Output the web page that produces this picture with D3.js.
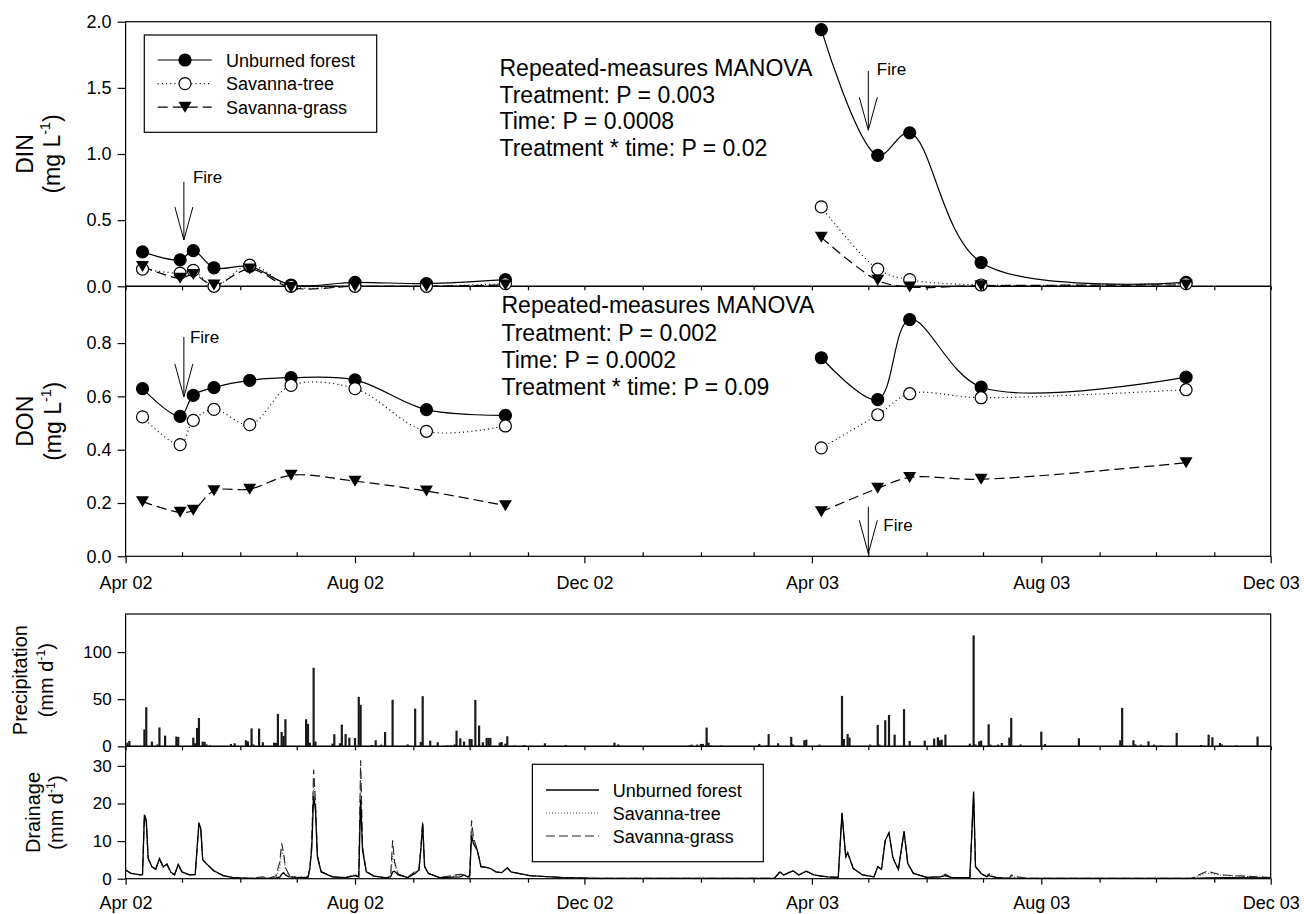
<!DOCTYPE html>
<html>
<head>
<meta charset="utf-8">
<script src="https://cdn.jsdelivr.net/npm/d3@7"></script>
<style>
  body { margin: 0; background: #fff; }
  svg { display: block; }
</style>
</head>
<body>
<svg id="chart" width="1304" height="914"></svg>
<script>
var FONT = '"Liberation Sans", Arial, Helvetica, sans-serif';
var parseDate = d3.timeParse('%Y-%m-%d');

var seriesNames = ['Unburned forest', 'Savanna-tree', 'Savanna-grass'];

// Sampling dates of the lysimeter water
var sampleDates2002 = ['2002-04-10', '2002-04-30', '2002-05-07', '2002-05-18', '2002-06-06',
  '2002-06-28', '2002-08-01', '2002-09-08', '2002-10-20'];
var sampleDates2003 = ['2003-04-06', '2003-05-06', '2003-05-23', '2003-06-30', '2003-10-17'];

// DIN (mg L-1)
var dinForest2002 = [0.26, 0.20, 0.27, 0.14, 0.15, 0.01, 0.03, 0.02, 0.05];
var dinTree2002 = [0.13, 0.10, 0.12, 0.00, 0.16, 0.00, 0.00, 0.00, 0.02];
var dinGrass2002 = [0.15, 0.06, 0.09, 0.01, 0.13, -0.01, 0.00, 0.00, 0.01];
var dinForest2003 = [1.94, 0.99, 1.16, 0.18, 0.03];
var dinTree2003 = [0.60, 0.13, 0.05, 0.01, 0.02];
var dinGrass2003 = [0.37, 0.045, -0.005, 0.005, 0.01];

// DON (mg L-1)
var donForest2002 = [0.629, 0.525, 0.604, 0.633, 0.66, 0.67, 0.662, 0.55, 0.529];
var donTree2002 = [0.523, 0.419, 0.51, 0.551, 0.494, 0.641, 0.629, 0.469, 0.489];
var donGrass2002 = [0.205, 0.165, 0.173, 0.246, 0.252, 0.304, 0.282, 0.245, 0.19];
var donForest2003 = [0.745, 0.588, 0.888, 0.635, 0.672];
var donTree2003 = [0.407, 0.531, 0.61, 0.595, 0.625];
var donGrass2003 = [0.167, 0.255, 0.296, 0.289, 0.351];

var dinStats = ['Repeated-measures MANOVA', 'Treatment: P = 0.003', 'Time: P = 0.0008',
  'Treatment * time: P = 0.02'];
var donStats = ['Repeated-measures MANOVA', 'Treatment: P = 0.002', 'Time: P = 0.0002',
  'Treatment * time: P = 0.09'];

// Daily precipitation (mm d-1), only rain days
var precipDates = [
  '2002-04-02', '2002-04-03', '2002-04-11', '2002-04-12', '2002-04-15', '2002-04-18', '2002-04-19',
  '2002-04-22', '2002-04-28', '2002-04-29', '2002-05-07', '2002-05-08', '2002-05-09', '2002-05-10',
  '2002-05-12', '2002-05-13', '2002-05-14', '2002-05-16', '2002-05-27', '2002-05-29', '2002-06-04',
  '2002-06-05', '2002-06-07', '2002-06-08', '2002-06-11', '2002-06-13', '2002-06-19', '2002-06-20',
  '2002-06-21', '2002-06-23', '2002-06-24', '2002-06-25', '2002-07-06', '2002-07-07', '2002-07-08',
  '2002-07-10', '2002-07-11', '2002-07-20', '2002-07-21', '2002-07-24', '2002-07-25', '2002-07-27',
  '2002-07-29', '2002-08-01', '2002-08-03', '2002-08-04', '2002-08-10', '2002-08-12', '2002-08-15',
  '2002-08-17', '2002-08-21', '2002-08-29', '2002-09-02', '2002-09-05', '2002-09-06', '2002-09-10',
  '2002-09-14', '2002-09-19', '2002-09-21', '2002-09-23', '2002-09-24', '2002-09-26', '2002-09-28',
  '2002-10-01', '2002-10-02', '2002-10-04', '2002-10-06', '2002-10-08', '2002-10-10', '2002-10-11',
  '2002-10-12', '2002-10-17', '2002-10-18', '2002-10-20', '2002-10-21', '2002-10-25', '2002-10-30',
  '2002-11-10', '2002-11-21', '2002-12-17', '2002-12-19',
  '2003-01-26', '2003-01-27', '2003-01-30', '2003-02-01', '2003-02-02', '2003-02-04', '2003-02-05',
  '2003-02-06', '2003-02-12', '2003-03-04', '2003-03-08', '2003-03-09', '2003-03-14', '2003-03-21',
  '2003-03-22', '2003-03-28', '2003-03-29', '2003-04-05', '2003-04-17', '2003-04-18', '2003-04-20',
  '2003-04-21', '2003-05-02', '2003-05-06', '2003-05-07', '2003-05-10', '2003-05-12', '2003-05-15',
  '2003-05-20', '2003-05-23', '2003-05-31', '2003-06-05', '2003-06-07', '2003-06-08', '2003-06-09',
  '2003-06-11', '2003-06-24', '2003-06-26', '2003-06-27', '2003-06-29', '2003-06-30', '2003-07-04',
  '2003-07-05', '2003-07-09', '2003-07-11', '2003-07-15', '2003-07-16', '2003-07-21', '2003-08-01',
  '2003-08-03', '2003-08-21', '2003-09-12', '2003-09-13', '2003-09-19', '2003-09-20', '2003-09-23',
  '2003-09-27', '2003-09-30', '2003-10-04', '2003-10-12', '2003-10-25', '2003-10-29', '2003-10-31',
  '2003-11-04', '2003-11-05', '2003-11-13', '2003-11-24'];
var precipValues = [
  3.9, 5.7, 18, 41.5, 5, 2, 20,
  11.3, 10.3, 10, 9.2, 3.2, 19.5, 30,
  5, 4.6, 2, 1, 2.5, 3.2, 6.4,
  5.3, 19, 2, 18.8, 4.3, 3.9, 3.5,
  34.4, 15.2, 11, 28.7, 28.7, 23.8, 3.9,
  83.3, 5, 2.8, 12.8, 3.2, 23, 13.1,
  9.2, 8.9, 52.5, 44, 1.4, 6.4, 1.8,
  15.2, 49.3, 2, 40, 4.6, 53.2, 6,
  4.3, 1, 1, 2, 16.7, 8.5, 5,
  7.8, 7.8, 49.3, 22, 4.3, 8.9, 8.9,
  8.9, 3.9, 4.6, 2.8, 10.6, 1, 1.4,
  3.2, 1.4, 3.9, 2,
  1, 1.8, 1.8, 2.5, 2.5, 19.9, 3.9,
  1, 1, 2.5, 1, 13, 3.2, 10,
  2, 6.4, 7, 1.8, 53.5, 7.8, 13,
  9.2, 1.8, 22.7, 1.8, 27.7, 33.3, 12.4,
  39.4, 5.7, 6, 8.2, 9.6, 6.4, 7,
  12.4, 2.8, 117.7, 2, 5.3, 6, 23.4,
  1.8, 1.8, 3.5, 9.2, 30, 2, 15.6,
  2.5, 8.5, 6.4, 40.8, 6.4, 2, 1.8,
  5.3, 1.8, 1, 14.2, 1.4, 12.4, 9.6,
  3.5, 2, 1, 10.3];

// Drainage (mm d-1), read at turning points of the daily curves
var drainDates = [
  '2002-04-01', '2002-04-04', '2002-04-09', '2002-04-10', '2002-04-11', '2002-04-12', '2002-04-13',
  '2002-04-15', '2002-04-17', '2002-04-19', '2002-04-21', '2002-04-23', '2002-04-25', '2002-04-27',
  '2002-04-29', '2002-05-01', '2002-05-05', '2002-05-08', '2002-05-10', '2002-05-11', '2002-05-12',
  '2002-05-14', '2002-05-18', '2002-05-23', '2002-05-28', '2002-06-06', '2002-06-13', '2002-06-16',
  '2002-06-20', '2002-06-22', '2002-06-23', '2002-06-24', '2002-06-25', '2002-06-27', '2002-07-01',
  '2002-07-07', '2002-07-08', '2002-07-09', '2002-07-10', '2002-07-11', '2002-07-12', '2002-07-14',
  '2002-07-20', '2002-07-27', '2002-08-01', '2002-08-03', '2002-08-04', '2002-08-05', '2002-08-07',
  '2002-08-11', '2002-08-18', '2002-08-20', '2002-08-21', '2002-08-22', '2002-08-24', '2002-08-29',
  '2002-09-02', '2002-09-04', '2002-09-05', '2002-09-06', '2002-09-07', '2002-09-09', '2002-09-15',
  '2002-09-26', '2002-09-28', '2002-09-30', '2002-10-01', '2002-10-02', '2002-10-03', '2002-10-05',
  '2002-10-07', '2002-10-10', '2002-10-12', '2002-10-15', '2002-10-18', '2002-10-21', '2002-10-23',
  '2002-11-02', '2002-11-20', '2002-12-08',
  '2003-02-05', '2003-03-12', '2003-03-15', '2003-03-17', '2003-03-22', '2003-03-25', '2003-03-29',
  '2003-04-02', '2003-04-09', '2003-04-15', '2003-04-17', '2003-04-19', '2003-04-20', '2003-04-23',
  '2003-04-28', '2003-05-04', '2003-05-06', '2003-05-08', '2003-05-10', '2003-05-12', '2003-05-14',
  '2003-05-15', '2003-05-17', '2003-05-20', '2003-05-22', '2003-05-25', '2003-06-01', '2003-06-08',
  '2003-06-11', '2003-06-14', '2003-06-24', '2003-06-26', '2003-06-27', '2003-06-30', '2003-07-03',
  '2003-07-04', '2003-07-08', '2003-07-15', '2003-07-16', '2003-07-18', '2003-07-25', '2003-10-20',
  '2003-10-28', '2003-11-05', '2003-12-01'];
var drainForest = [
  2.3, 1.4, 1.0, 1.1, 17.0, 15.5, 5.4,
  3.2, 2.5, 5.4, 3.2, 3.9, 1.8, 1.0,
  3.8, 1.8, 1.0, 1.1, 14.9, 13.3, 5.1,
  4.0, 2.1, 0.8, 0.3, 0.1, 0.1, 0.1,
  0.2, 0.4, 1.2, 1.6, 1.0, 0.5, 0.3,
  0.3, 2.7, 8.0, 22.0, 18.0, 5.8, 1.8,
  0.5, 0.3, 0.8, 0.5, 21.0, 7.6, 1.8,
  0.7, 0.2, 0.5, 1.8, 2.0, 1.0, 0.3,
  1.4, 2.3, 7.6, 14.5, 3.2, 1.4, 0.3,
  0.5, 1.0, 0.5, 0.5, 11.5, 9.3, 7.6,
  3.2, 3.0, 2.7, 1.8, 1.6, 2.9, 1.8,
  0.8, 0.3, 0.1,
  0.1, 0.1, 1.8, 1.0, 2.1, 1.0, 2.0,
  1.0, 0.5, 0.35, 17.5, 5.8, 6.9, 2.7,
  1.0, 0.5, 3.2, 2.5, 10.2, 12.2, 5.8,
  4.5, 2.5, 12.6, 4.0, 1.4, 0.35, 0.5,
  0.8, 0.35, 0.3, 23.2, 3.2, 1.4, 0.5,
  0.8, 0.3, 0.1, 0.1, 0.1, 0.1, 0.1,
  0.2, 0.3, 0.2];
var drainTree = [
  2.3, 1.4, 1.0, 1.1, 16.4, 15.0, 5.2,
  3.1, 2.4, 5.0, 3.0, 3.6, 1.7, 1.0,
  3.5, 1.7, 1.0, 1.1, 14.2, 12.8, 5.0,
  3.8, 2.0, 0.8, 0.3, 0.1, 0.3, 0.1,
  0.5, 2.8, 8.0, 6.0, 2.5, 0.9, 0.3,
  0.5, 2.5, 9.0, 26.0, 20.0, 6.0, 1.8,
  0.5, 0.3, 1.2, 0.5, 28.0, 8.0, 1.9,
  0.7, 0.2, 0.8, 6.0, 4.0, 1.2, 0.3,
  1.8, 2.3, 7.8, 15.0, 3.3, 1.4, 0.3,
  0.8, 1.0, 0.5, 0.8, 13.5, 10.0, 7.6,
  3.2, 3.0, 2.7, 1.8, 1.6, 2.9, 1.8,
  0.8, 0.3, 0.1,
  0.1, 0.1, 1.8, 1.0, 2.1, 1.0, 2.0,
  1.0, 0.5, 0.35, 17.0, 5.8, 6.9, 2.7,
  1.0, 0.5, 3.2, 2.5, 10.0, 12.0, 5.8,
  4.5, 2.5, 12.4, 4.0, 1.4, 0.35, 0.5,
  1.1, 0.35, 0.3, 22.0, 3.4, 1.4, 0.5,
  1.5, 0.3, 0.1, 0.5, 0.4, 0.1, 0.1,
  1.5, 0.9, 0.3];
var drainGrass = [
  2.3, 1.4, 1.0, 1.1, 16.8, 15.2, 5.3,
  3.2, 2.5, 5.2, 3.1, 3.8, 1.8, 1.0,
  3.7, 1.8, 1.0, 1.1, 14.6, 13.0, 5.0,
  3.9, 2.0, 0.8, 0.3, 0.1, 0.5, 0.1,
  0.8, 4.5, 9.4, 7.0, 3.0, 1.0, 0.3,
  0.6, 2.7, 10.0, 29.0, 20.5, 6.2, 1.9,
  0.5, 0.3, 1.0, 0.5, 31.5, 8.5, 2.0,
  0.7, 0.2, 1.0, 10.2, 4.5, 1.2, 0.3,
  2.0, 2.3, 8.0, 15.3, 3.4, 1.4, 0.3,
  1.2, 1.0, 0.5, 1.0, 15.5, 11.0, 7.8,
  3.2, 3.0, 2.7, 1.8, 1.6, 2.9, 1.8,
  0.8, 0.3, 0.1,
  0.1, 0.1, 1.8, 1.0, 2.1, 1.0, 2.0,
  1.0, 0.5, 0.35, 17.3, 5.8, 6.9, 2.7,
  1.0, 0.5, 3.2, 2.5, 10.2, 12.2, 5.8,
  4.5, 2.5, 12.6, 4.0, 1.4, 0.35, 0.5,
  1.2, 0.35, 0.3, 22.6, 3.3, 1.4, 0.5,
  1.2, 0.3, 0.1, 1.0, 0.6, 0.1, 0.1,
  2.0, 1.0, 0.3];

// Fire annotations, arrow ends given in data units of their panel
var fireMarks = [
  {panel: 'din', date: '2002-05-02', top: 0.79, tip: 0.35, dx: 9, dy: 1},
  {panel: 'din', date: '2003-05-01', top: 1.627, tip: 1.18, dx: 8.5, dy: 4},
  {panel: 'don', date: '2002-05-02', top: 0.823, tip: 0.598, dx: 6, dy: 6.5},
  {panel: 'don', date: '2003-05-01', top: 0.186, tip: 0.011, dx: 15, dy: 24}
];

var svg = d3.select('#chart');

var x = d3.scaleTime()
  .domain([parseDate('2002-04-01'), parseDate('2003-12-01')])
  .range([125.6, 1270.7]);

var yDin = d3.scaleLinear().domain([0, 2]).range([286.3, 21.7]);
var yDon = d3.scaleLinear().domain([0, 1.013]).range([556.3, 286.3]);
var yPrecip = d3.scaleLinear().domain([0, 140.4]).range([746.3, 614]);
var yDrain = d3.scaleLinear().domain([0, 35.2]).range([878.7, 746.3]);
var panelScales = {din: yDin, don: yDon};

var months = d3.timeMonth.range(x.domain()[0], d3.timeDay.offset(x.domain()[1], 1));
var majorMonths = months.filter(function (d, i) { return i % 4 === 0; });
var minorMonths = months.filter(function (d, i) { return i % 4 !== 0; });

var seriesStyles = [
  {marker: 'filled', dash: null},
  {marker: 'open', dash: '1,3.2'},
  {marker: 'triangle', dash: '10,5'}
];

function styleAxis(g, fontSize) {
  g.attr('font-family', FONT).attr('font-size', fontSize);
  g.select('.domain').remove();
  g.selectAll('line').attr('stroke', '#000').attr('stroke-width', 1.2);
  g.selectAll('text').attr('fill', '#000');
}

function drawFrame(y) {
  var r = y.range();
  svg.append('rect')
    .attr('x', x.range()[0])
    .attr('y', r[1])
    .attr('width', x.range()[1] - x.range()[0])
    .attr('height', r[0] - r[1])
    .attr('fill', 'none')
    .attr('stroke', '#000')
    .attr('stroke-width', 1.2);
}

function drawYAxis(y, ticks, fmt, fontSize) {
  var g = svg.append('g')
    .attr('transform', 'translate(' + x.range()[0] + ',0)')
    .call(d3.axisLeft(y).tickValues(ticks).tickFormat(fmt).tickSize(8).tickPadding(6));
  styleAxis(g, fontSize);
}

function drawMonthTicks(yPos, values, size, up) {
  var axis = up ? d3.axisTop(x) : d3.axisBottom(x);
  var g = svg.append('g')
    .attr('transform', 'translate(0,' + yPos + ')')
    .call(axis.tickValues(values).tickSize(size).tickFormat(''));
  styleAxis(g, 18);
}

function drawDateLabels(yPos, size, padding) {
  var g = svg.append('g')
    .attr('transform', 'translate(0,' + yPos + ')')
    .call(d3.axisBottom(x).tickValues(majorMonths).tickSize(size).tickPadding(padding)
      .tickFormat(d3.timeFormat('%b %y')));
  styleAxis(g, 18);
}

/**
 * Two-line rotated axis title, the unit line carries a superscript.
 */
function drawAxisTitle(name, unit, xName, xUnit, cy, fontSize) {
  var g = svg.append('g')
    .attr('font-family', FONT)
    .attr('font-size', fontSize)
    .attr('fill', '#000');

  g.append('text')
    .attr('transform', 'translate(' + xName + ',' + cy + ') rotate(-90)')
    .attr('text-anchor', 'middle')
    .attr('dy', '0.35em')
    .text(name);

  var t = g.append('text')
    .attr('transform', 'translate(' + xUnit + ',' + cy + ') rotate(-90)')
    .attr('text-anchor', 'middle')
    .attr('dy', '0.35em');
  t.append('tspan').text('(' + unit);
  t.append('tspan').attr('font-size', fontSize * 0.62).attr('dy', -fontSize * 0.42).text('-1');
  t.append('tspan').attr('dy', fontSize * 0.42).text(')');
}

function drawMarker(g, kind, cx, cy) {
  if (kind === 'triangle') {
    g.append('path')
      .attr('d', 'M' + (cx - 6.5) + ',' + (cy - 5.5) + 'L' + (cx + 6.5) + ',' + (cy - 5.5) +
        'L' + cx + ',' + (cy + 5.5) + 'Z')
      .attr('fill', '#000');
  } else {
    g.append('circle')
      .attr('cx', cx)
      .attr('cy', cy)
      .attr('r', 6)
      .attr('fill', kind === 'filled' ? '#000' : '#fff')
      .attr('stroke', '#000')
      .attr('stroke-width', 1.2);
  }
}

/**
 * Draws one year of one treatment: spline through the samples, then symbols.
 */
function drawSeries(lineLayer, markLayer, y, dates, values, style) {
  var pts = dates.map(function (d, i) {
    return {date: parseDate(d), value: values[i]};
  });

  var line = d3.line()
    .x(function (d) { return x(d.date); })
    .y(function (d) { return y(d.value); })
    .curve(d3.curveCatmullRom.alpha(0.5));

  lineLayer.append('path')
    .attr('d', line(pts))
    .attr('fill', 'none')
    .attr('stroke', '#000')
    .attr('stroke-width', 1.2)
    .attr('stroke-dasharray', style.dash);

  pts.forEach(function (p) {
    drawMarker(markLayer, style.marker, x(p.date), y(p.value));
  });
}

function drawStats(lines, x0, y0, step) {
  var t = svg.append('text')
    .attr('font-family', FONT)
    .attr('font-size', 23)
    .attr('fill', '#000');
  lines.forEach(function (s, i) {
    t.append('tspan').attr('x', x0).attr('y', y0 + i * step).text(s);
  });
}

// ---- frames
drawFrame(yDin);
drawFrame(yDon);
drawFrame(yPrecip);
drawFrame(yDrain);

// ---- precipitation bars
svg.append('g')
  .selectAll('rect')
  .data(precipDates.map(function (d, i) { return {date: parseDate(d), value: precipValues[i]}; }))
  .enter()
  .append('rect')
  .attr('x', function (d) { return x(d.date) - 1.1; })
  .attr('width', 2.2)
  .attr('y', function (d) { return yPrecip(d.value); })
  .attr('height', function (d) { return yPrecip(0) - yPrecip(d.value); })
  .attr('fill', '#1a1a1a');

// ---- drainage lines
var drainRows = drainDates.map(function (d, i) {
  return {date: parseDate(d), forest: drainForest[i], tree: drainTree[i], grass: drainGrass[i]};
});
var drainKeys = ['forest', 'tree', 'grass'];
var drainStyles = [
  {dash: null, color: '#000', width: 1.3},
  {dash: '1,2', color: '#444', width: 1.1},
  {dash: '9,4', color: '#222', width: 1.1}
];
[2, 1, 0].forEach(function (k) {
  var line = d3.line()
    .x(function (d) { return x(d.date); })
    .y(function (d) { return yDrain(d[drainKeys[k]]); });
  svg.append('path')
    .attr('d', line(drainRows))
    .attr('fill', 'none')
    .attr('stroke', drainStyles[k].color)
    .attr('stroke-width', drainStyles[k].width)
    .attr('stroke-dasharray', drainStyles[k].dash);
});

// ---- DIN / DON series
var lineLayer = svg.append('g');
var markLayer = svg.append('g');
var dinSets = [
  [dinForest2002, dinForest2003], [dinTree2002, dinTree2003], [dinGrass2002, dinGrass2003]
];
var donSets = [
  [donForest2002, donForest2003], [donTree2002, donTree2003], [donGrass2002, donGrass2003]
];
[0, 1, 2].forEach(function (k) {
  drawSeries(lineLayer, markLayer, yDin, sampleDates2002, dinSets[k][0], seriesStyles[k]);
  drawSeries(lineLayer, markLayer, yDin, sampleDates2003, dinSets[k][1], seriesStyles[k]);
  drawSeries(lineLayer, markLayer, yDon, sampleDates2002, donSets[k][0], seriesStyles[k]);
  drawSeries(lineLayer, markLayer, yDon, sampleDates2003, donSets[k][1], seriesStyles[k]);
});

// ---- axes
drawYAxis(yDin, [0, 0.5, 1, 1.5, 2], d3.format('.1f'), 18);
drawYAxis(yDon, [0, 0.2, 0.4, 0.6, 0.8], d3.format('.1f'), 18);
drawYAxis(yPrecip, [0, 50, 100], d3.format('d'), 17);
drawYAxis(yDrain, [0, 10, 20, 30], d3.format('d'), 17);

drawMonthTicks(yDin(0), months, 4, false);
drawMonthTicks(yDon(0), minorMonths, 4, true);
drawDateLabels(yDon(0), 7, 13);
drawMonthTicks(yPrecip(0), months, 4, false);
drawMonthTicks(yDrain(0), minorMonths, 4, false);
drawDateLabels(yDrain(0), 6, 12);

drawAxisTitle('DIN', 'mg L', 25, 52, (yDin.range()[0] + yDin.range()[1]) / 2, 23);
drawAxisTitle('DON', 'mg L', 25, 53, (yDon.range()[0] + yDon.range()[1]) / 2, 23);
drawAxisTitle('Precipitation', 'mm d', 20, 46, (yPrecip.range()[0] + yPrecip.range()[1]) / 2, 20);
drawAxisTitle('Drainage', 'mm d', 33, 56, (yDrain.range()[0] + yDrain.range()[1]) / 2, 20);

// ---- statistics
drawStats(dinStats, 499.5, 76, 26.7);
drawStats(donStats, 501.5, 313.3, 27.2);

// ---- fire arrows
fireMarks.forEach(function (f) {
  var y = panelScales[f.panel];
  var fx = x(parseDate(f.date));
  var yTop = y(f.top);
  var yTip = y(f.tip);
  var g = svg.append('g').attr('stroke', '#000').attr('stroke-width', 1).attr('fill', 'none');
  g.append('line').attr('x1', fx).attr('x2', fx).attr('y1', yTop).attr('y2', yTip);
  g.append('path')
    .attr('d', 'M' + (fx - 9) + ',' + (yTip - 33) + 'L' + fx + ',' + yTip + 'L' + (fx + 9) + ',' + (yTip - 33));
  svg.append('text')
    .attr('x', fx + f.dx)
    .attr('y', yTop + f.dy)
    .attr('font-family', FONT)
    .attr('font-size', 17)
    .attr('fill', '#000')
    .text('Fire');
});

// ---- legend, top panel
var legTop = svg.append('g').attr('font-family', FONT).attr('font-size', 18);
legTop.append('rect')
  .attr('x', 144.3).attr('y', 35).attr('width', 232.4).attr('height', 97.3)
  .attr('fill', '#fff').attr('stroke', '#000').attr('stroke-width', 1.2);
seriesNames.forEach(function (name, i) {
  var ry = 60 + i * 23.6;
  legTop.append('line')
    .attr('x1', 157.7).attr('x2', 211.7).attr('y1', ry).attr('y2', ry)
    .attr('stroke', '#000').attr('stroke-width', 1.2)
    .attr('stroke-dasharray', seriesStyles[i].dash);
  drawMarker(legTop, seriesStyles[i].marker, 185, ry);
  legTop.append('text').attr('x', 226).attr('y', ry + 6.5).attr('fill', '#000').text(name);
});

// ---- legend, drainage panel
var legBot = svg.append('g').attr('font-family', FONT).attr('font-size', 18);
legBot.append('rect')
  .attr('x', 532.4).attr('y', 764.3).attr('width', 230.9).attr('height', 97.4)
  .attr('fill', '#fff').attr('stroke', '#000').attr('stroke-width', 1.2);
seriesNames.forEach(function (name, i) {
  var ry = 790 + i * 23;
  legBot.append('line')
    .attr('x1', 546).attr('x2', 599).attr('y1', ry).attr('y2', ry)
    .attr('stroke', drainStyles[i].color).attr('stroke-width', drainStyles[i].width)
    .attr('stroke-dasharray', drainStyles[i].dash);
  legBot.append('text').attr('x', 612.7).attr('y', ry + 6.5).attr('fill', '#000').text(name);
});
</script>
</body>
</html>
